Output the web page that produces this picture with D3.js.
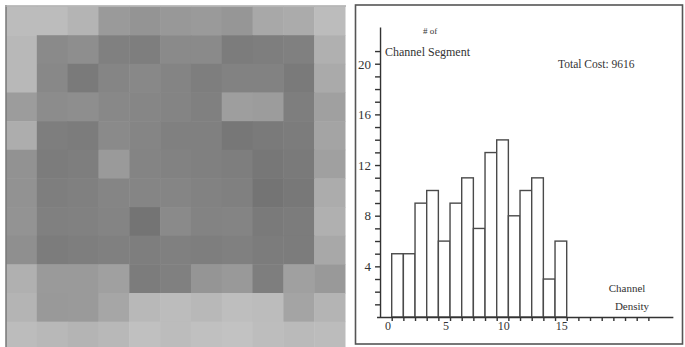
<!DOCTYPE html>
<html>
<head>
<meta charset="utf-8">
<script src="https://cdn.jsdelivr.net/npm/d3@7"></script>
<style>
  body { margin: 0; background: #fff; }
  svg { display: block; }
  text { font-family: "Liberation Serif", "DejaVu Serif", serif; fill: #333; }
</style>
</head>
<body>
<svg id="chart"></svg>
<script>
// gray level of each cell of the channel map (rows top to bottom)
const gridRows = [
  [188, 188, 180, 154, 148, 152, 154, 150, 168, 171, 188],
  [184, 138, 142, 128, 126, 138, 138, 124, 126, 128, 176],
  [184, 136, 122, 133, 136, 132, 126, 130, 130, 122, 170],
  [156, 140, 142, 136, 134, 132, 128, 158, 156, 126, 160],
  [173, 126, 124, 138, 133, 128, 128, 119, 122, 124, 164],
  [146, 124, 126, 154, 132, 130, 128, 126, 119, 122, 160],
  [146, 126, 128, 133, 133, 133, 130, 128, 116, 120, 172],
  [147, 128, 129, 132, 116, 138, 131, 132, 122, 124, 176],
  [143, 124, 126, 128, 126, 128, 126, 128, 124, 124, 168],
  [176, 154, 154, 160, 124, 128, 149, 153, 126, 160, 153],
  [180, 153, 154, 166, 184, 188, 184, 190, 188, 164, 180],
  [188, 184, 180, 184, 192, 188, 192, 194, 189, 186, 188]
];

// histogram: number of channel segments per channel density
const densities = [0, 1, 2, 3, 4, 5, 6, 7, 8, 9, 10, 11, 12, 13, 14];
const segmentCounts = [5, 5, 9, 10, 6, 9, 11, 7, 13, 14, 8, 10, 11, 3, 6];
const yTickLabels = [4, 8, 12, 16, 20];
const xTickLabels = [0, 5, 10, 15];
const totalCost = 9616;

const width = 685, height = 347;

const svg = d3.select("#chart")
    .attr("width", width)
    .attr("height", height);

// ---- left panel: channel map ----
const cols = d3.range(gridRows[0].length);
const rows = d3.range(gridRows.length);

const xCell = d3.scaleBand().domain(cols).range([6, 345]);
const yCell = d3.scaleBand().domain(rows).range([6.5, 6.5 + 28.65 * rows.length]);

const map = svg.append("g").attr("id", "map");

gridRows.forEach((row, r) => {
    map.selectAll(null)
        .data(row)
        .join("rect")
        .attr("x", (d, c) => xCell(c))
        .attr("y", yCell(r))
        .attr("width", xCell.bandwidth() + 0.5)
        .attr("height", yCell.bandwidth() + 0.5)
        .attr("fill", d => d3.rgb(d, d, d));
});

map.append("line")
    .attr("x1", 6).attr("x2", 6).attr("y1", 5).attr("y2", height)
    .attr("stroke", "#777").attr("stroke-width", 1.5);
map.append("line")
    .attr("x1", 5).attr("x2", 346).attr("y1", 6).attr("y2", 6)
    .attr("stroke", "#aaa").attr("stroke-width", 1.5);

// ---- right panel: histogram ----
svg.append("rect")
    .attr("x", 355.5).attr("y", 5)
    .attr("width", 327).attr("height", 339)
    .attr("fill", "none")
    .attr("stroke", "#555")
    .attr("stroke-width", 1.6);

const x = d3.scaleLinear().domain([0, 15]).range([391.7, 566.7]);
const xLabel = d3.scaleLinear().domain([0, 15]).range([388, 561.7]);
const y = d3.scaleLinear().domain([0, 20]).range([317, 64]);

const hist = svg.append("g").attr("id", "hist");

hist.selectAll("rect")
    .data(segmentCounts)
    .join("rect")
    .attr("x", (d, i) => x(densities[i]))
    .attr("y", d => y(d))
    .attr("width", x(1) - x(0))
    .attr("height", d => y(0) - y(d))
    .attr("fill", "#fff")
    .attr("stroke", "#4a4a4a")
    .attr("stroke-width", 1.4);

// y axis
const yAxis = hist.append("g")
    .attr("transform", `translate(${x(-1)},0)`)
    .call(d3.axisLeft(y.copy().domain([0, 22.9]).range([317, 27]))
        .tickValues(d3.range(1, 22))
        .tickSize(5)
        .tickSizeOuter(0)
        .tickFormat(""));
yAxis.selectAll("path, line").attr("stroke", "#333").attr("stroke-width", 1.4);

hist.selectAll(".ylab")
    .data(yTickLabels)
    .join("text")
    .attr("class", "ylab")
    .attr("x", 371)
    .attr("y", d => y(d))
    .attr("dy", "0.35em")
    .attr("text-anchor", "end")
    .attr("font-size", 13)
    .text(d => d);

// x axis
const xAxis = hist.append("g")
    .attr("transform", `translate(0,${y(0)})`)
    .call(d3.axisBottom(x.copy().domain([-1.3, 24.1]).range([x(-1.3), x(24.1)]))
        .tickValues(d3.range(0, 23))
        .tickSize(4)
        .tickSizeOuter(0)
        .tickFormat(""));
xAxis.selectAll("path, line").attr("stroke", "#333").attr("stroke-width", 1.4);

hist.selectAll(".xlab")
    .data(xTickLabels)
    .join("text")
    .attr("class", "xlab")
    .attr("x", d => xLabel(d))
    .attr("y", 330)
    .attr("text-anchor", "middle")
    .attr("font-size", 12)
    .text(d => d);

// titles
hist.append("text")
    .attr("x", 430).attr("y", 34)
    .attr("text-anchor", "middle")
    .attr("font-size", 9)
    .text("# of");
hist.append("text")
    .attr("x", 385).attr("y", 56)
    .attr("font-size", 12)
    .text("Channel Segment");
hist.append("text")
    .attr("x", 558).attr("y", 68)
    .attr("font-size", 11.5)
    .text("Total Cost: " + totalCost);
hist.append("text")
    .attr("x", 627).attr("y", 292)
    .attr("text-anchor", "middle")
    .attr("font-size", 11)
    .text("Channel");
hist.append("text")
    .attr("x", 632).attr("y", 310)
    .attr("text-anchor", "middle")
    .attr("font-size", 11)
    .text("Density");
</script>
</body>
</html>
